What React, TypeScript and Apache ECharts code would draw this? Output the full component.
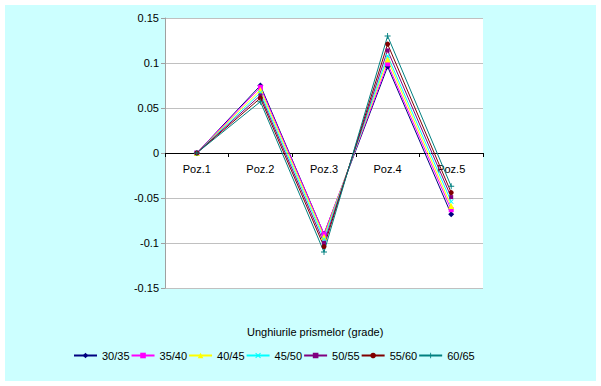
import React, { useEffect, useRef } from "react";
import * as echarts from "echarts";

const categories = ["Poz.1", "Poz.2", "Poz.3", "Poz.4", "Poz.5"];
const seriesNames = ["30/35", "35/40", "40/45", "45/50", "50/55", "55/60", "60/65"];
const s3035 = [0, 0.075, -0.09, 0.096, -0.068];
const s3540 = [0, 0.073, -0.09, 0.099, -0.063];
const s4045 = [0, 0.07, -0.093, 0.104, -0.059];
const s4550 = [0, 0.067, -0.096, 0.108, -0.054];
const s5055 = [0, 0.064, -0.1, 0.114, -0.049];
const s5560 = [0, 0.061, -0.104, 0.121, -0.044];
const s6065 = [0, 0.057, -0.11, 0.13, -0.037];
const seriesValues = [s3035, s3540, s4045, s4550, s5055, s5560, s6065];
const colors = ["#000080", "#FF00FF", "#FFFF00", "#00FFFF", "#800080", "#800000", "#008080"];
const symbols = [
  "diamond",
  "rect",
  "triangle",
  "path://M-3,-4L0,-1L3,-4L4,-3L1,0L4,3L3,4L0,1L-3,4L-4,3L-1,0L-4,-3Z",
  "rect",
  "circle",
  "path://M-0.6,-4H0.6V-0.6H4V0.6H0.6V4H-0.6V0.6H-4V-0.6H-0.6Z",
];
const symbolSizes = [6, 5, 6, 5, 4, 5, 6];
const yTicks = { min: -0.15, max: 0.15, interval: 0.05 };
const xTitle = "Unghiurile prismelor (grade)";

const FONT = "'Liberation Sans', Arial, sans-serif";

export default function App() {
  const ref = useRef<HTMLDivElement>(null);
  useEffect(() => {
    if (!ref.current) return;
    const chart = echarts.init(ref.current, undefined, { renderer: "svg" });
    chart.setOption({
      animation: false,
      backgroundColor: "#ffffff",
      textStyle: { fontFamily: FONT },
      graphic: [
        {
          type: "rect",
          z: -10,
          silent: true,
          shape: { x: 5, y: 5, width: 591, height: 376 },
          style: { fill: "#CCFFFF" },
        },
        {
          type: "text",
          left: 247,
          top: 326,
          style: { text: xTitle, fontSize: 11, fontFamily: FONT, fill: "#000" },
        },
      ],
      grid: {
        left: 165,
        right: 118,
        top: 18,
        bottom: 98,
        show: true,
        backgroundColor: "#ffffff",
        borderWidth: 0,
        containLabel: false,
      },
      legend: {
        top: 345,
        left: 68,
        itemWidth: 23,
        itemHeight: 7,
        itemGap: 1,
        textStyle: { fontSize: 11, color: "#000", fontFamily: FONT },
        data: seriesNames,
      },
      xAxis: {
        type: "category",
        data: categories,
        boundaryGap: true,
        position: "bottom",
        offset: -135,
        axisLine: { onZero: false, lineStyle: { color: "#000", width: 1 } },
        axisTick: { show: true, length: 4, lineStyle: { color: "#000" } },
        axisLabel: { fontSize: 11, color: "#000", margin: 10, fontFamily: FONT },
        splitLine: { show: false },
      },
      yAxis: {
        type: "value",
        min: yTicks.min,
        max: yTicks.max,
        interval: yTicks.interval,
        axisLine: { show: true, lineStyle: { color: "#A0A0A0" } },
        axisTick: { show: true, length: 4, lineStyle: { color: "#A0A0A0" } },
        axisLabel: { fontSize: 11, color: "#000", margin: 6, fontFamily: FONT },
        splitLine: { show: true, lineStyle: { color: "#C0C0C0", width: 1 } },
      },
      series: seriesNames.map((name, i) => ({
        name,
        type: "line",
        data: seriesValues[i],
        color: colors[i],
        symbol: symbols[i],
        symbolSize: symbolSizes[i],
        showSymbol: true,
        lineStyle: { width: 1, color: colors[i] },
        itemStyle: { color: colors[i] },
      })),
    });
    return () => chart.dispose();
  }, []);
  return (
    <div
      ref={ref}
      style={{ position: "fixed", left: 0, top: 0, width: 601, height: 386 }}
    />
  );
}
